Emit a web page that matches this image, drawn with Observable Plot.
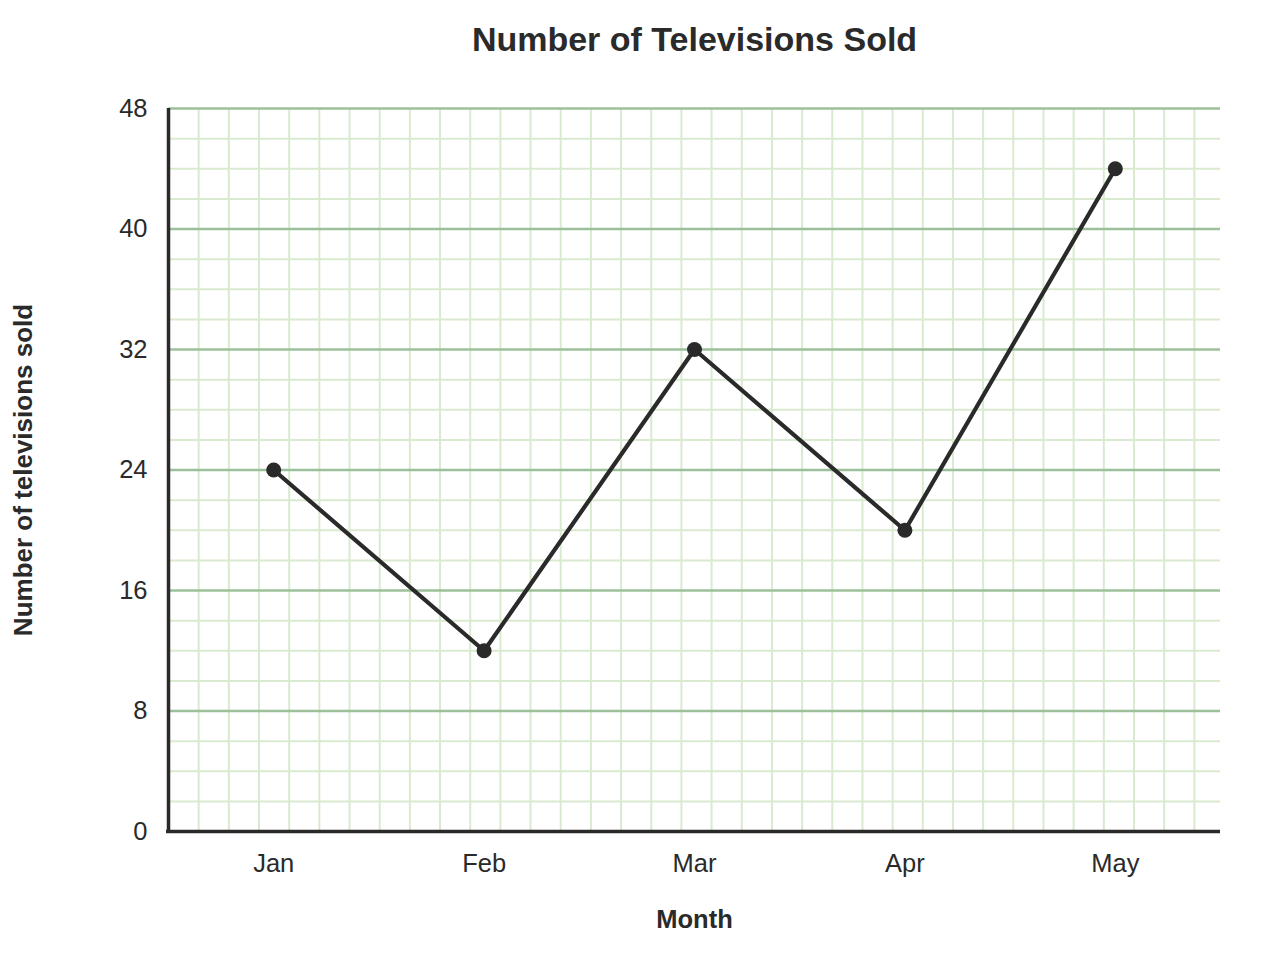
<!DOCTYPE html>
<html>
<head>
<meta charset="utf-8">
<script src="https://cdn.jsdelivr.net/npm/d3@7"></script>
<script src="https://cdn.jsdelivr.net/npm/@observablehq/plot@0.6"></script>
<style>
  html, body { margin: 0; padding: 0; background: #fff; }
  svg { display: block; font-family: "Liberation Sans", Arial, sans-serif; }
</style>
</head>
<body>
<div id="chart"></div>
<script>
const months = ["Jan", "Feb", "Mar", "Apr", "May"];
const sold = [24, 12, 32, 20, 44];
const yTicks = [0, 8, 16, 24, 32, 40, 48];
const yMinorStep = 2;
const xGridStep = 0.1434; // minor vertical grid spacing, in month units
const title = "Number of Televisions Sold";
const xLabel = "Month";
const yLabel = "Number of televisions sold";

const data = months.map((m, i) => ({month: m, pos: i + 0.5, value: sold[i]}));
const yMinor = d3.range(yMinorStep, 48, yMinorStep).filter(v => v % 8 !== 0);
const yMajor = yTicks.filter(v => v > 0);
const xMinor = d3.range(1, 35).map(k => k * xGridStep);

const ink = "#2a2a2a";
const chart = Plot.plot({
  width: 1280,
  height: 980,
  marginLeft: 168,
  marginRight: 60,
  marginTop: 108,
  marginBottom: 149,
  style: {fontFamily: "'Liberation Sans', Arial, sans-serif", color: ink, background: "#fff"},
  x: {type: "linear", domain: [0, months.length]},
  y: {domain: [0, 48]},
  marks: [
    Plot.ruleX(xMinor, {stroke: "#d9eacf", strokeWidth: 2}),
    Plot.ruleY(yMinor, {stroke: "#d9eacf", strokeWidth: 2}),
    Plot.ruleY(yMajor, {stroke: "#9cc09a", strokeWidth: 2.5}),
    Plot.axisY({ticks: yTicks, tickSize: 0, tickPadding: 21, fontSize: 25.5, label: null, tickFormat: d => String(d)}),
    Plot.axisX({ticks: data.map(d => d.pos), tickFormat: (d, i) => months[i], tickSize: 0, tickPadding: 22, fontSize: 25.5, label: null}),
    Plot.ruleX([0], {stroke: ink, strokeWidth: 3.5}),
    Plot.ruleY([0], {stroke: ink, strokeWidth: 3.5, x1: 0, x2: months.length, insetLeft: -2}),
    Plot.line(data, {x: "pos", y: "value", stroke: ink, strokeWidth: 4.2}),
    Plot.dot(data, {x: "pos", y: "value", r: 7.5, fill: ink, stroke: "none"}),
    Plot.text([title], {frameAnchor: "top", lineAnchor: "middle", dy: -68, fontSize: 34, fontWeight: "bold", fill: ink}),
    Plot.text([xLabel], {frameAnchor: "bottom", lineAnchor: "middle", dy: 88, fontSize: 25.5, fontWeight: "bold", fill: ink}),
    Plot.text([yLabel], {frameAnchor: "left", textAnchor: "middle", lineAnchor: "middle", dx: -145, rotate: -90, fontSize: 26, fontWeight: "bold", fill: ink})
  ]
});
document.getElementById("chart").appendChild(chart);
</script>
</body>
</html>
